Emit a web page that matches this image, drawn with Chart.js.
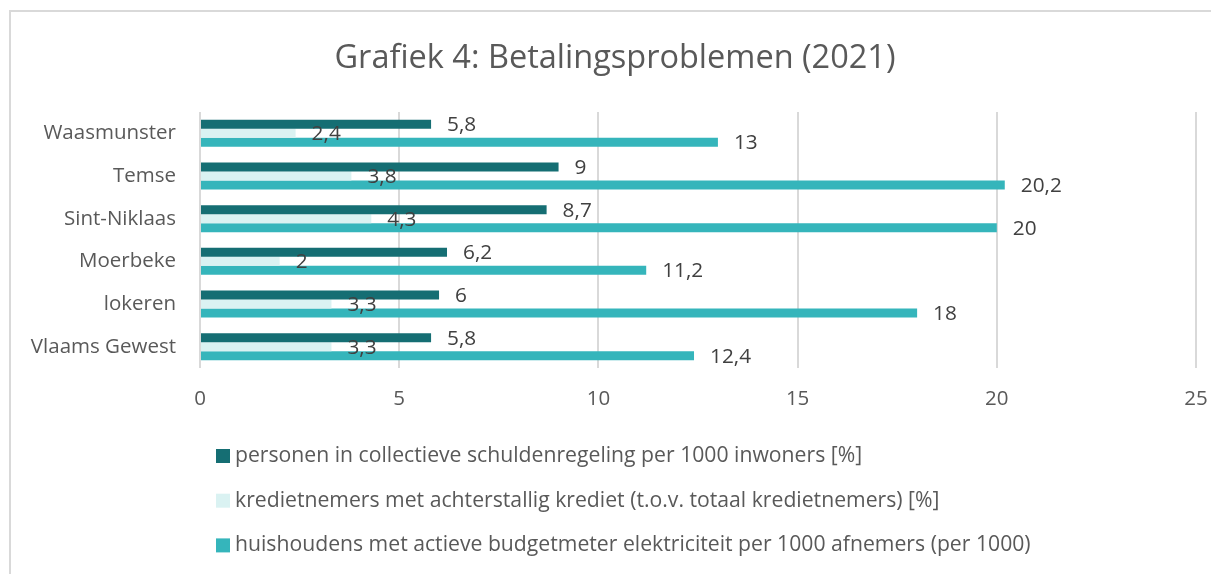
<!DOCTYPE html>
<html>
<head>
<meta charset="utf-8">
<script src="https://cdn.jsdelivr.net/npm/chart.js@4.4.0/dist/chart.umd.min.js"></script>
<style>
html,body{margin:0;padding:0;background:#ffffff;overflow:hidden}
#wrap{position:relative;width:1211px;height:574px}
</style>
</head>
<body>
<div id="wrap"><canvas id="c" width="1211" height="574"></canvas></div>
<script>
// ---- data ----
const titleText = 'Grafiek 4: Betalingsproblemen (2021)';
const categories = ['Waasmunster', 'Temse', 'Sint-Niklaas', 'Moerbeke', 'lokeren', 'Vlaams Gewest'];
const seriesNames = [
  'personen in collectieve schuldenregeling per 1000 inwoners [%]',
  'kredietnemers met achterstallig krediet (t.o.v. totaal kredietnemers) [%]',
  'huishoudens met actieve budgetmeter elektriciteit per 1000 afnemers (per 1000)'
];
const schuldenregeling = [5.8, 9, 8.7, 6.2, 6, 5.8];
const achterstallig = [2.4, 3.8, 4.3, 2, 3.3, 3.3];
const budgetmeter = [13, 20.2, 20, 11.2, 18, 12.4];
const xTickValues = [0, 5, 10, 15, 20, 25];

// ---- styles ----
const colors = ['#156e73', '#daf2f2', '#35b5bb'];
const FONT = "'Open Sans', 'Noto Sans', sans-serif";
const textGray = '#595959';
const labelDark = '#404040';

const framePlugin = {
  id: 'frame',
  beforeDraw(chart) {
    const ctx = chart.ctx;
    ctx.save();
    ctx.fillStyle = '#d9d9d9';
    ctx.fillRect(9, 10, 2, chart.height);
    ctx.fillRect(9, 10, chart.width, 2);
    ctx.restore();
  }
};

const valueLabelPlugin = {
  id: 'valueLabels',
  afterDatasetsDraw(chart) {
    const ctx = chart.ctx;
    ctx.save();
    ctx.font = "20.8px " + FONT;
    ctx.fillStyle = labelDark;
    ctx.textAlign = 'left';
    ctx.textBaseline = 'middle';
    chart.data.datasets.forEach((ds, i) => {
      const meta = chart.getDatasetMeta(i);
      meta.data.forEach((bar, j) => {
        const txt = String(ds.data[j]).replace('.', ',');
        ctx.fillText(txt, bar.x + 16, bar.y + 1);
      });
    });
    ctx.restore();
  }
};

const customLegendPlugin = {
  id: 'customLegend',
  afterDraw(chart) {
    const ctx = chart.ctx;
    ctx.save();
    ctx.font = "21.2px " + FONT;
    ctx.textAlign = 'left';
    ctx.textBaseline = 'middle';
    const startY = 456, step = 44.7;
    chart.data.datasets.forEach((ds, i) => {
      const cy = startY + i * step;
      ctx.fillStyle = ds.backgroundColor;
      ctx.fillRect(216, cy - 7, 14, 14);
      ctx.fillStyle = textGray;
      ctx.fillText(ds.label, 235, cy);
    });
    ctx.restore();
  }
};

new Chart(document.getElementById('c'), {
  type: 'bar',
  data: {
    labels: categories,
    datasets: [
      { label: seriesNames[0], data: schuldenregeling, backgroundColor: colors[0] },
      { label: seriesNames[1], data: achterstallig, backgroundColor: colors[1] },
      { label: seriesNames[2], data: budgetmeter, backgroundColor: colors[2] }
    ]
  },
  options: {
    indexAxis: 'y',
    responsive: false,
    animation: false,
    devicePixelRatio: 1,
    datasets: { bar: { categoryPercentage: 0.633, barPercentage: 1.0 } },
    layout: { padding: { left: 19, right: 0, top: 0, bottom: 0 } },
    plugins: {
      legend: { display: false },
      tooltip: { enabled: false },
      title: {
        display: true,
        text: titleText,
        color: textGray,
        font: { family: FONT, size: 32.5, weight: 'normal' },
        padding: { top: 39.5, bottom: 33.5 }
      }
    },
    scales: {
      x: {
        min: 0, max: 25,
        afterBuildTicks(scale) { scale.ticks = xTickValues.map(v => ({ value: v })); },
        afterFit(scale) { scale.height = 206; scale.paddingLeft = 0; scale.paddingRight = 15; },
        grid: { color: '#d9d9d9', lineWidth: 2, drawTicks: false },
        border: { display: false },
        ticks: { color: textGray, padding: 19, font: { family: FONT, size: 20.5 } }
      },
      y: {
        afterFit(scale) { scale.width = 181; scale.paddingTop = 0; scale.paddingBottom = 0; },
        grid: { display: false, drawTicks: false },
        border: { display: false },
        ticks: { color: textGray, padding: 24, font: { family: FONT, size: 20.5 } }
      }
    }
  },
  plugins: [framePlugin, valueLabelPlugin, customLegendPlugin]
});
</script>
</body>
</html>
